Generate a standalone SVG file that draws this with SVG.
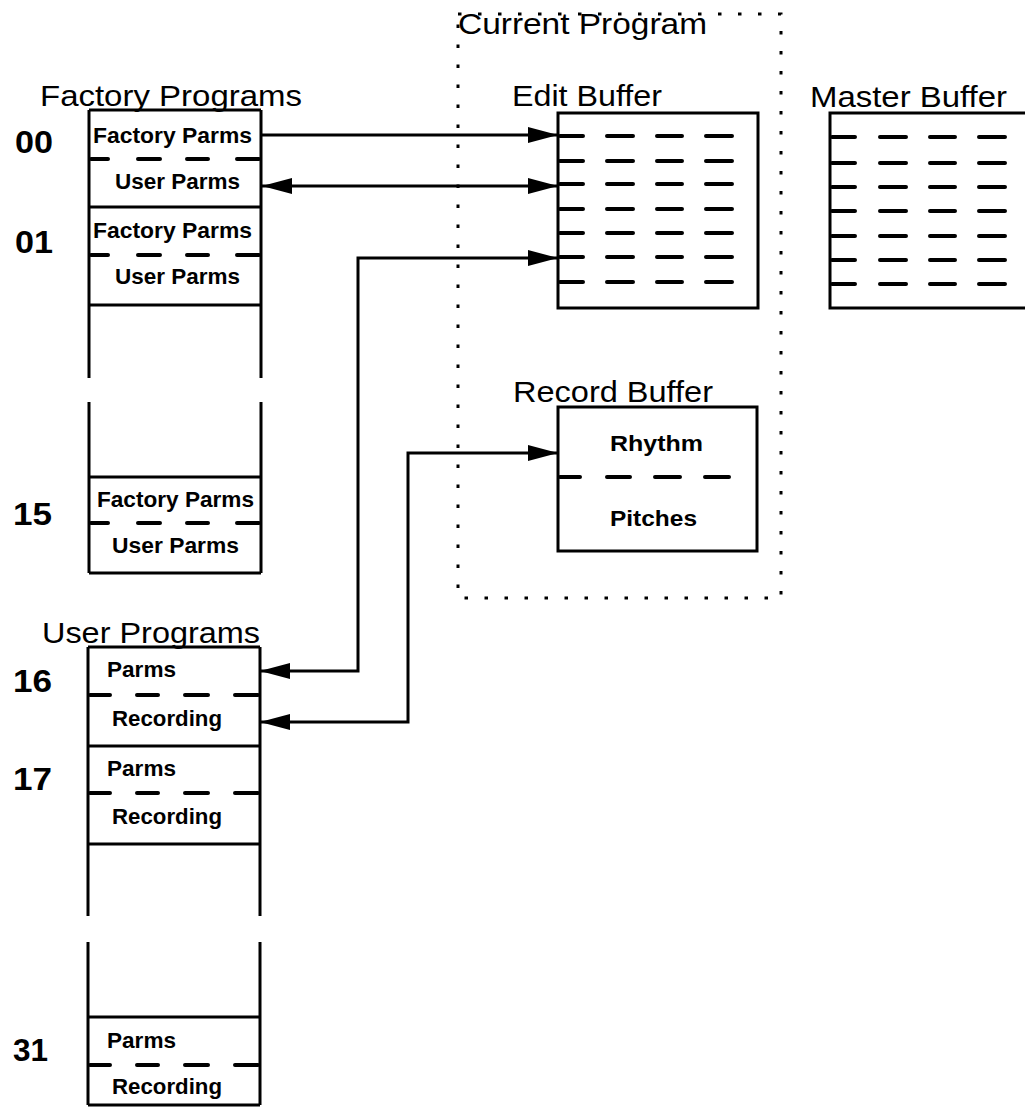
<svg xmlns="http://www.w3.org/2000/svg" width="1025" height="1116" viewBox="0 0 1025 1116">
<style>
.ln{stroke:#000;stroke-width:3;fill:none}
.dl{stroke:#000;stroke-width:4;fill:none;stroke-linecap:round}
.dot{stroke:#000;stroke-width:3;fill:none;stroke-dasharray:3.5 16.5}
.ttl{font-family:"Liberation Sans",Arial,sans-serif;font-size:30px;fill:#000}
.bt{font-family:"Liberation Sans",Arial,sans-serif;font-size:22px;font-weight:bold;fill:#000}
.num{font-family:"Liberation Sans",Arial,sans-serif;font-size:32px;font-weight:bold;fill:#000}
.cn{stroke:#000;stroke-width:3;fill:none}
</style>
<defs>
<marker id="ah" viewBox="0 0 30 16" refX="30" refY="8" markerWidth="30" markerHeight="16" markerUnits="userSpaceOnUse" orient="auto-start-reverse">
<path d="M0,0 L30,8 L0,16 Z" fill="#000"/>
</marker>
</defs>
<rect width="1025" height="1116" fill="#fff"/>

<g id="current-program">
<path class="dot" d="M458,14 H781 V598 H458 Z"/>
<text class="ttl" x="458" y="34" textLength="249" lengthAdjust="spacingAndGlyphs">Current Program</text>
</g>

<g id="factory-programs">
<text class="ttl" x="40" y="106" textLength="262" lengthAdjust="spacingAndGlyphs">Factory Programs</text>
<path class="ln" d="M89,110 H261 M89,110 V378 M261,110 V378 M89,402 V573 M261,402 V573 M89,207 H261 M89,305 H261 M89,477 H261 M89,573 H261"/>
<path class="dl" d="M91,159 H108 M138,159 H160 M187,159 H208 M237,159 H259 M91,255 H108 M138,255 H160 M187,255 H208 M237,255 H259 M91,523 H108 M138,523 H160 M187,523 H208 M237,523 H259"/>
<text class="num" x="15" y="153" textLength="38" lengthAdjust="spacingAndGlyphs">00</text>
<text class="num" x="15" y="253" textLength="38" lengthAdjust="spacingAndGlyphs">01</text>
<text class="num" x="13" y="525" textLength="39" lengthAdjust="spacingAndGlyphs">15</text>
<text class="bt" x="93" y="143" textLength="159" lengthAdjust="spacingAndGlyphs">Factory Parms</text>
<text class="bt" x="115" y="189" textLength="125" lengthAdjust="spacingAndGlyphs">User Parms</text>
<text class="bt" x="93" y="238" textLength="159" lengthAdjust="spacingAndGlyphs">Factory Parms</text>
<text class="bt" x="115" y="284" textLength="125" lengthAdjust="spacingAndGlyphs">User Parms</text>
<text class="bt" x="97" y="507" textLength="157" lengthAdjust="spacingAndGlyphs">Factory Parms</text>
<text class="bt" x="112" y="553" textLength="127" lengthAdjust="spacingAndGlyphs">User Parms</text>
</g>

<g id="user-programs">
<text class="ttl" x="42" y="643" textLength="218" lengthAdjust="spacingAndGlyphs">User Programs</text>
<path class="ln" d="M88,647 H260 M88,647 V916 M260,647 V916 M88,942 V1105 M260,942 V1105 M88,746 H260 M88,844 H260 M88,1017 H260 M88,1105 H260"/>
<path class="dl" d="M90,695 H110 M137,695 H158 M185,695 H208 M235,695 H258 M90,793 H110 M137,793 H158 M185,793 H208 M235,793 H258 M90,1065 H110 M137,1065 H158 M185,1065 H208 M235,1065 H258"/>
<text class="num" x="13" y="692" textLength="39" lengthAdjust="spacingAndGlyphs">16</text>
<text class="num" x="13" y="790" textLength="39" lengthAdjust="spacingAndGlyphs">17</text>
<text class="num" x="13" y="1061" textLength="35" lengthAdjust="spacingAndGlyphs">31</text>
<text class="bt" x="107" y="677" textLength="69" lengthAdjust="spacingAndGlyphs">Parms</text>
<text class="bt" x="112" y="726" textLength="110" lengthAdjust="spacingAndGlyphs">Recording</text>
<text class="bt" x="107" y="776" textLength="69" lengthAdjust="spacingAndGlyphs">Parms</text>
<text class="bt" x="112" y="824" textLength="110" lengthAdjust="spacingAndGlyphs">Recording</text>
<text class="bt" x="107" y="1048" textLength="69" lengthAdjust="spacingAndGlyphs">Parms</text>
<text class="bt" x="112" y="1094" textLength="110" lengthAdjust="spacingAndGlyphs">Recording</text>
</g>

<g id="edit-buffer">
<text class="ttl" x="512" y="106" textLength="150" lengthAdjust="spacingAndGlyphs">Edit Buffer</text>
<rect class="ln" x="558" y="113" width="200" height="195"/>
<path class="dl" d="M560,136 H583 M607,136 H633 M657,136 H682 M706,136 H732 M560,161 H583 M607,161 H633 M657,161 H682 M706,161 H732 M560,184 H583 M607,184 H633 M657,184 H682 M706,184 H732 M560,209 H583 M607,209 H633 M657,209 H682 M706,209 H732 M560,233 H583 M607,233 H633 M657,233 H682 M706,233 H732 M560,257 H583 M607,257 H633 M657,257 H682 M706,257 H732 M560,282 H583 M607,282 H633 M657,282 H682 M706,282 H732"/>
</g>

<g id="master-buffer">
<text class="ttl" x="810" y="107" textLength="197" lengthAdjust="spacingAndGlyphs">Master Buffer</text>
<path class="ln" d="M1030,113 H830 V308 H1030"/>
<path class="dl" d="M832,137 H855 M880,137 H906 M930,137 H955 M979,137 H1005 M832,163 H855 M880,163 H906 M930,163 H955 M979,163 H1005 M832,187 H855 M880,187 H906 M930,187 H955 M979,187 H1005 M832,211 H855 M880,211 H906 M930,211 H955 M979,211 H1005 M832,236 H855 M880,236 H906 M930,236 H955 M979,236 H1005 M832,260 H855 M880,260 H906 M930,260 H955 M979,260 H1005 M832,284 H855 M880,284 H906 M930,284 H955 M979,284 H1005"/>
</g>

<g id="record-buffer">
<text class="ttl" x="513" y="402" textLength="200" lengthAdjust="spacingAndGlyphs">Record Buffer</text>
<rect class="ln" x="558" y="407" width="199" height="144" fill="none"/>
<path class="dl" d="M560,477 H580 M607,477 H630 M655,477 H680 M705,477 H729"/>
<text class="bt" x="610" y="451" font-size="24" textLength="93" lengthAdjust="spacingAndGlyphs">Rhythm</text>
<text class="bt" x="610" y="526" font-size="24" textLength="87" lengthAdjust="spacingAndGlyphs">Pitches</text>
</g>

<g id="connectors">
<path class="cn" d="M262,135 H558" marker-end="url(#ah)"/>
<path class="cn" d="M262,186 H558" marker-start="url(#ah)" marker-end="url(#ah)"/>
<path class="cn" d="M260,671 H358 V258 H558" marker-start="url(#ah)" marker-end="url(#ah)"/>
<path class="cn" d="M260,722 H408 V453 H558" marker-start="url(#ah)" marker-end="url(#ah)"/>
</g>
</svg>
